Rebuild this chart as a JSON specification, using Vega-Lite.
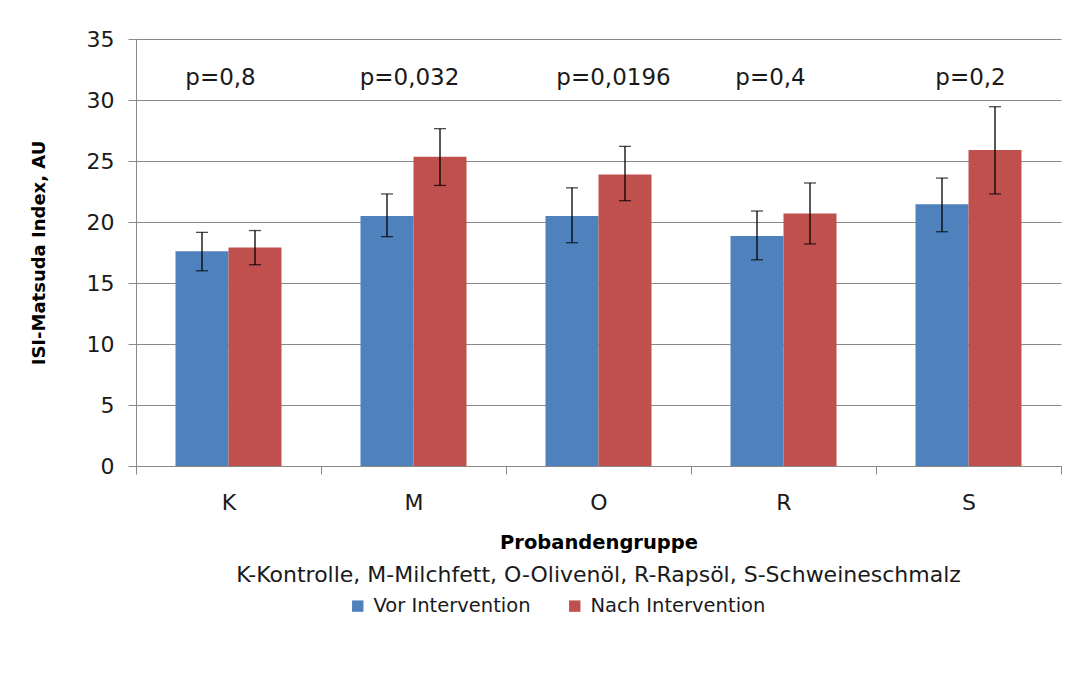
{
  "$schema": "https://vega.github.io/schema/vega-lite/v6.json",
  "width": 925,
  "height": 427,
  "autosize": {"type": "none"},
  "padding": {"left": 136, "top": 39, "right": 24, "bottom": 213},
  "background": "white",
  "config": {
    "view": {"stroke": null},
    "font": "DejaVu Sans",
    "text": {"color": "#1a1a1a"}
  },
  "datasets": {
    "bars": [
      {"group": "K", "phase": "Vor Intervention", "value": 17.6, "lo": 16.0, "hi": 19.15},
      {"group": "K", "phase": "Nach Intervention", "value": 17.9, "lo": 16.5, "hi": 19.3},
      {"group": "M", "phase": "Vor Intervention", "value": 20.5, "lo": 18.8, "hi": 22.3},
      {"group": "M", "phase": "Nach Intervention", "value": 25.35, "lo": 23.0, "hi": 27.65},
      {"group": "O", "phase": "Vor Intervention", "value": 20.5, "lo": 18.3, "hi": 22.8},
      {"group": "O", "phase": "Nach Intervention", "value": 23.9, "lo": 21.75, "hi": 26.2},
      {"group": "R", "phase": "Vor Intervention", "value": 18.85, "lo": 16.9, "hi": 20.9},
      {"group": "R", "phase": "Nach Intervention", "value": 20.7, "lo": 18.2, "hi": 23.2},
      {"group": "S", "phase": "Vor Intervention", "value": 21.45, "lo": 19.2, "hi": 23.6},
      {"group": "S", "phase": "Nach Intervention", "value": 25.9, "lo": 22.3, "hi": 29.45}
    ],
    "pvals": [
      {"group": "K", "p": "p=0,8"},
      {"group": "M", "p": "p=0,032"},
      {"group": "O", "p": "p=0,0196"},
      {"group": "R", "p": "p=0,4"},
      {"group": "S", "p": "p=0,2"}
    ],
    "note": [
      {"text": "K-Kontrolle, M-Milchfett, O-Olivenöl, R-Rapsöl, S-Schweineschmalz"}
    ]
  },
  "encoding": {
    "x": {
      "field": "group",
      "type": "nominal",
      "sort": ["K", "M", "O", "R", "S"],
      "scale": {"domain": ["K", "M", "O", "R", "S"], "paddingInner": 0, "paddingOuter": 0},
      "axis": {
        "title": "Probandengruppe",
        "titleFontWeight": "bold",
        "titleFontSize": 19.5,
        "titleColor": "#000000",
        "titlePadding": 20,
        "labelAngle": 0,
        "labelFontSize": 22,
        "labelColor": "#1a1a1a",
        "labelPadding": 18,
        "tickBand": "extent",
        "tickSize": 8,
        "tickColor": "#888888",
        "domainColor": "#888888",
        "grid": false
      }
    }
  },
  "layer": [
    {
      "data": {"name": "bars"},
      "mark": {"type": "bar"},
      "encoding": {
        "xOffset": {"field": "phase", "type": "nominal", "sort": ["Vor Intervention", "Nach Intervention"], "scale": {"paddingInner": 0, "paddingOuter": 0.745}},
        "y": {
          "field": "value",
          "type": "quantitative",
          "scale": {"domain": [0, 35], "nice": false},
          "axis": {
            "title": "ISI-Matsuda Index,  AU",
            "titleFontWeight": "bold",
            "titleFontSize": 18,
            "titleColor": "#000000",
            "titlePadding": 38,
            "values": [0, 5, 10, 15, 20, 25, 30, 35],
            "labelFontSize": 22,
            "labelColor": "#1a1a1a",
            "labelPadding": 14,
            "tickSize": 8,
            "tickColor": "#888888",
            "domainColor": "#888888",
            "gridColor": "#888888",
            "gridWidth": 1
          }
        },
        "color": {
          "field": "phase",
          "type": "nominal",
          "sort": ["Vor Intervention", "Nach Intervention"],
          "scale": {"domain": ["Vor Intervention", "Nach Intervention"], "range": ["#4F81BD", "#C0504D"]},
          "legend": {
            "title": null,
            "orient": "none",
            "direction": "horizontal",
            "legendX": 212,
            "legendY": 557,
            "symbolType": "square",
            "symbolSize": 130,
            "symbolStrokeWidth": 0,
            "labelFontSize": 19.5,
            "labelLimit": 400,
            "labelColor": "#1a1a1a",
            "labelOffset": 6,
            "columnPadding": 34
          }
        }
      }
    },
    {
      "data": {"name": "bars"},
      "mark": {"type": "rule", "color": "#000000", "strokeWidth": 1.3},
      "encoding": {
        "xOffset": {"field": "phase", "type": "nominal", "sort": ["Vor Intervention", "Nach Intervention"]},
        "y": {"field": "lo", "type": "quantitative"},
        "y2": {"field": "hi"}
      }
    },
    {
      "data": {"name": "bars"},
      "mark": {"type": "tick", "color": "#000000", "size": 12, "thickness": 1.3, "orient": "horizontal"},
      "encoding": {
        "xOffset": {"field": "phase", "type": "nominal", "sort": ["Vor Intervention", "Nach Intervention"]},
        "y": {"field": "lo", "type": "quantitative"}
      }
    },
    {
      "data": {"name": "bars"},
      "mark": {"type": "tick", "color": "#000000", "size": 12, "thickness": 1.3, "orient": "horizontal"},
      "encoding": {
        "xOffset": {"field": "phase", "type": "nominal", "sort": ["Vor Intervention", "Nach Intervention"]},
        "y": {"field": "hi", "type": "quantitative"}
      }
    },
    {
      "data": {"name": "pvals"},
      "transform": [{"filter": "datum.group === 'K'"}],
      "mark": {"type": "text", "fontSize": 23, "baseline": "middle", "align": "center", "dx": -8},
      "encoding": {"y": {"datum": 31.8, "type": "quantitative"}, "text": {"field": "p"}}
    },
    {
      "data": {"name": "pvals"},
      "transform": [{"filter": "datum.group === 'M'"}],
      "mark": {"type": "text", "fontSize": 23, "baseline": "middle", "align": "center", "dx": -4},
      "encoding": {"y": {"datum": 31.8, "type": "quantitative"}, "text": {"field": "p"}}
    },
    {
      "data": {"name": "pvals"},
      "transform": [{"filter": "datum.group === 'O'"}],
      "mark": {"type": "text", "fontSize": 23, "baseline": "middle", "align": "center", "dx": 15},
      "encoding": {"y": {"datum": 31.8, "type": "quantitative"}, "text": {"field": "p"}}
    },
    {
      "data": {"name": "pvals"},
      "transform": [{"filter": "datum.group === 'R'"}],
      "mark": {"type": "text", "fontSize": 23, "baseline": "middle", "align": "center", "dx": -13},
      "encoding": {"y": {"datum": 31.8, "type": "quantitative"}, "text": {"field": "p"}}
    },
    {
      "data": {"name": "pvals"},
      "transform": [{"filter": "datum.group === 'S'"}],
      "mark": {"type": "text", "fontSize": 23, "baseline": "middle", "align": "center", "dx": 2},
      "encoding": {"y": {"datum": 31.8, "type": "quantitative"}, "text": {"field": "p"}}
    },
    {
      "data": {"name": "note"},
      "mark": {"type": "text", "fontSize": 22, "baseline": "middle", "align": "center", "clip": false},
      "encoding": {
        "x": {"datum": "O"},
        "y": {"datum": -8.93, "type": "quantitative"},
        "text": {"field": "text"}
      }
    }
  ]
}
